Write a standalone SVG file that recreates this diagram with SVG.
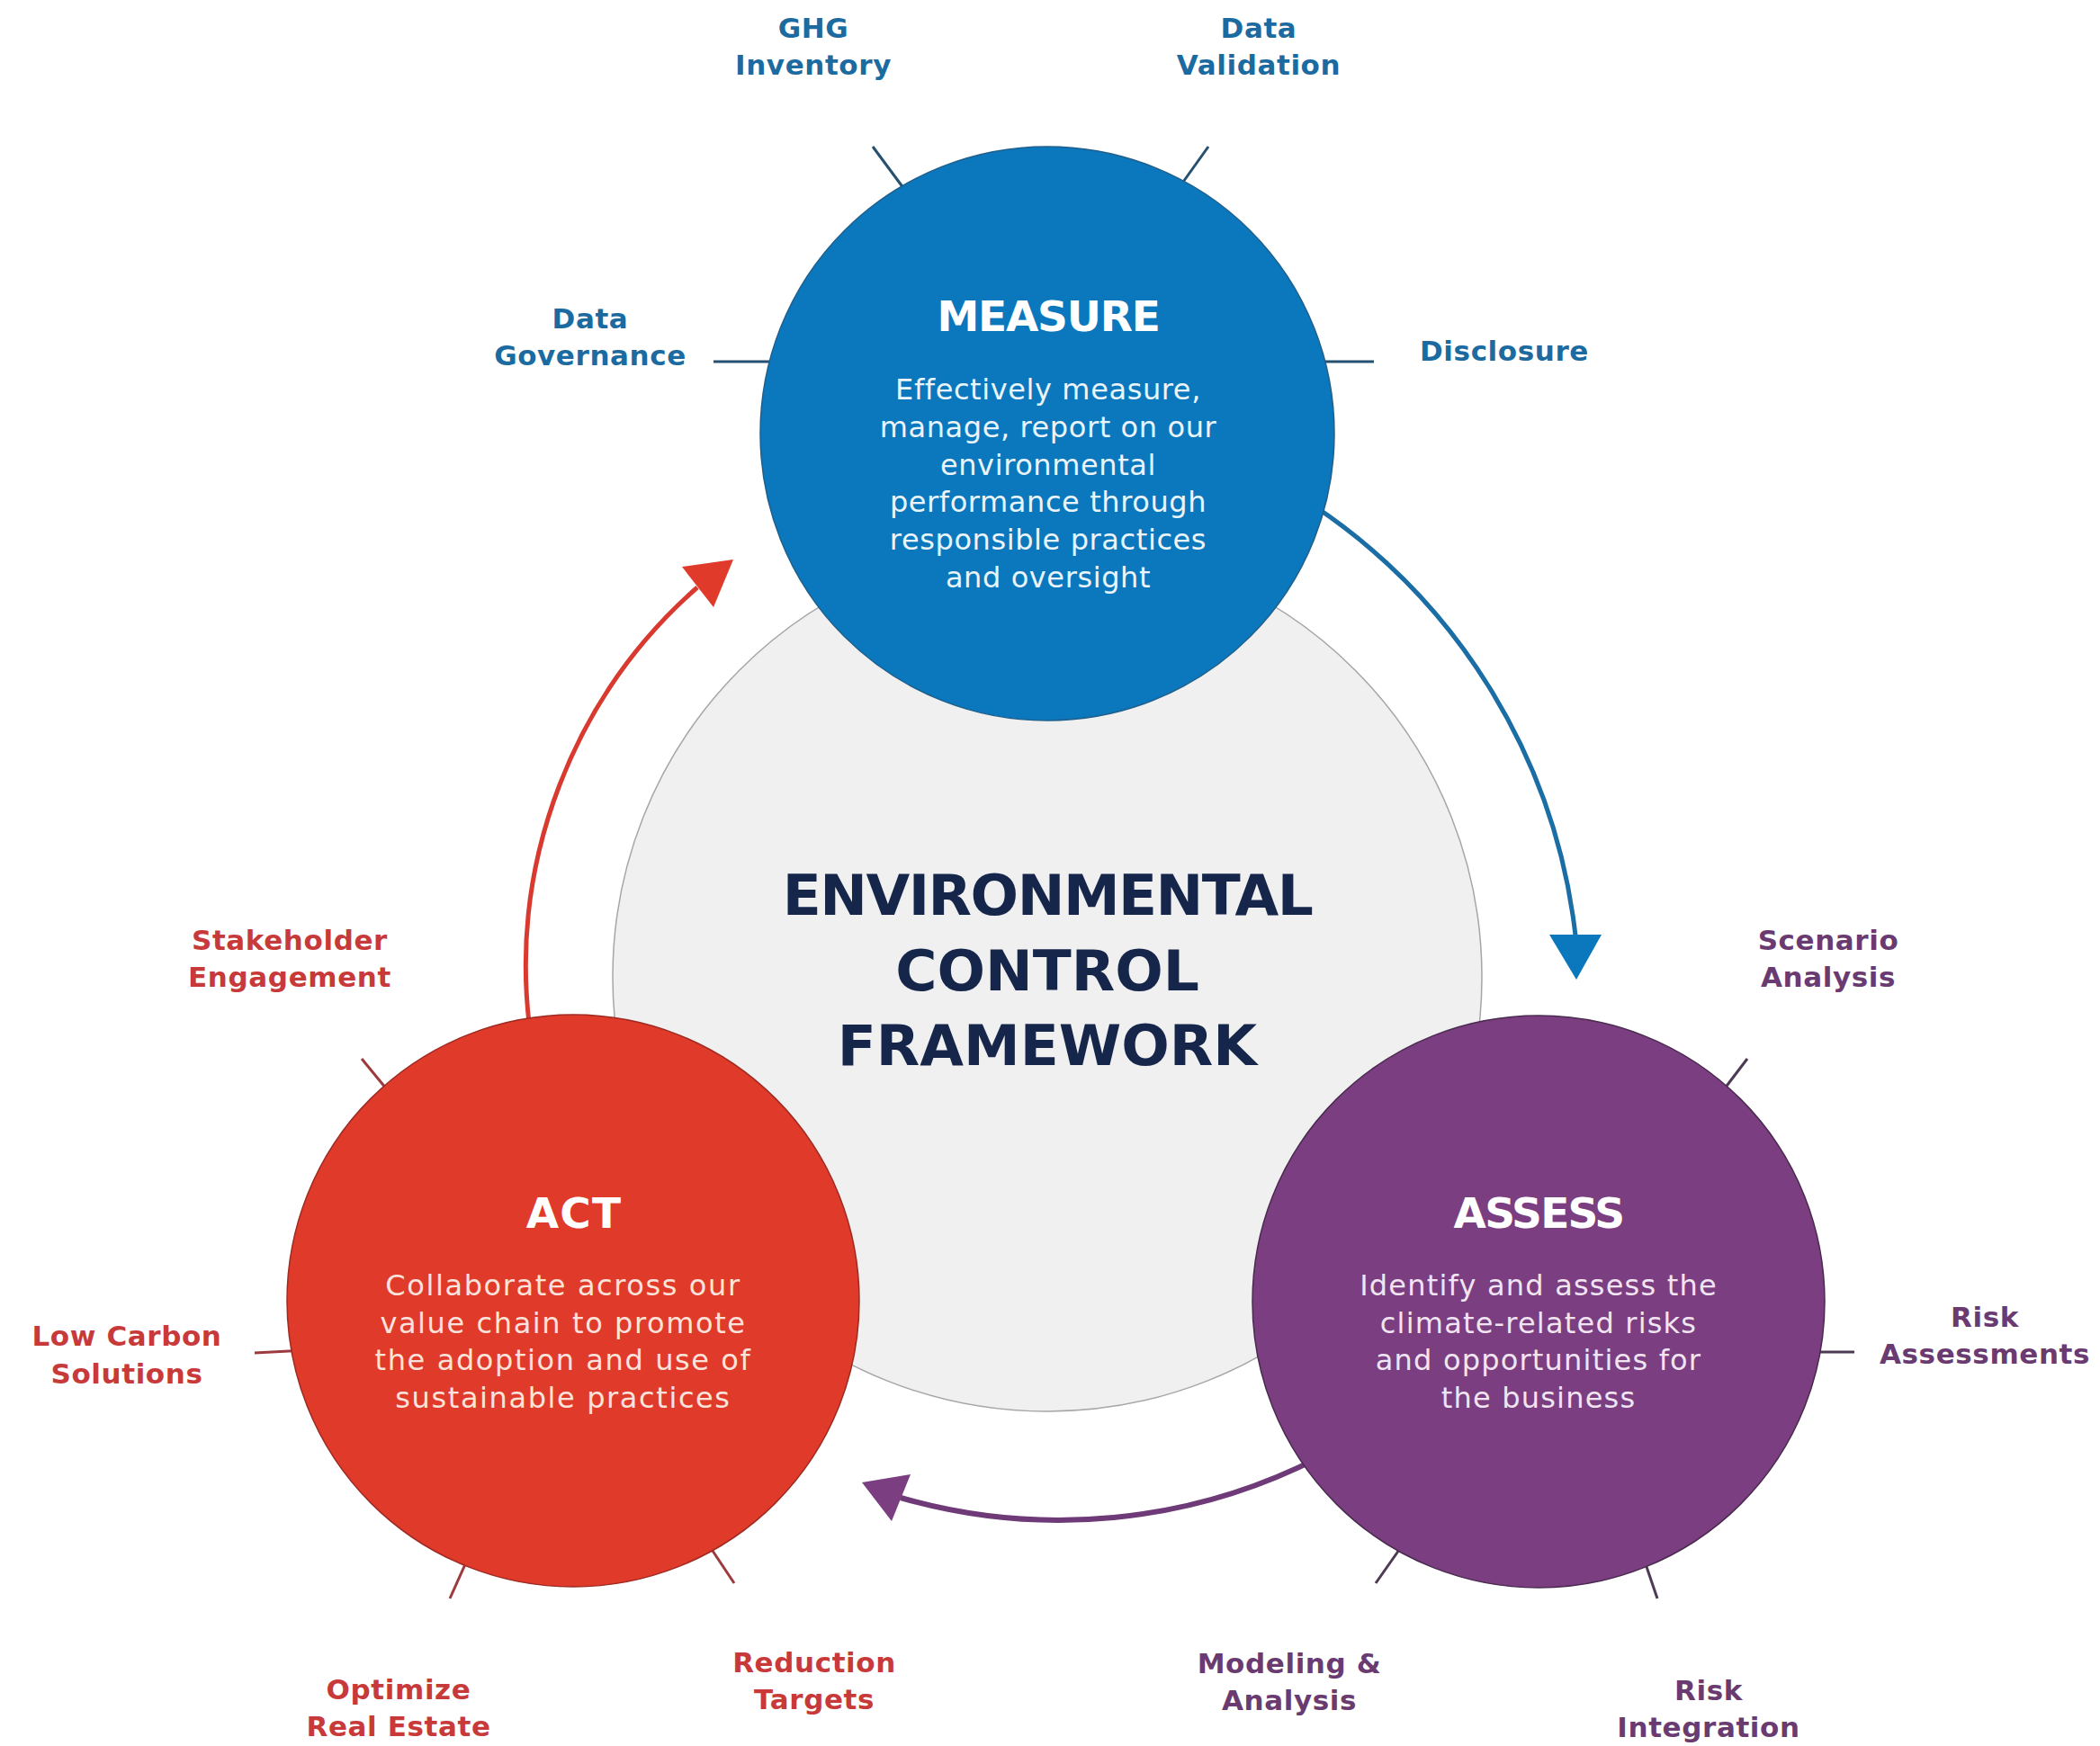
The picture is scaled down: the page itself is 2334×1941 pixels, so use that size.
<svg xmlns="http://www.w3.org/2000/svg" width="2334" height="1941" viewBox="0 0 2334 1941">
  <style>
    .lbl { font-family: "DejaVu Sans", "Liberation Sans", sans-serif; font-weight: bold; font-size: 31px; letter-spacing: 0.6px; text-anchor: middle; }
    .lbl-m { fill: #1b6aa0; }
    .lbl-a { fill: #c8393a; }
    .lbl-s { fill: #6a3b70; }
    .head { font-family: "DejaVu Sans", "Liberation Sans", sans-serif; font-weight: bold; font-size: 47px; fill: #ffffff; text-anchor: middle; }
    .body { font-family: "DejaVu Sans", "Liberation Sans", sans-serif; font-size: 32px; text-anchor: middle; }
    .title { font-family: "DejaVu Sans", "Liberation Sans", sans-serif; font-weight: bold; font-size: 63px; fill: #15264a; text-anchor: middle; }
    .tick { stroke-width: 3; fill: none; stroke-linecap: butt; }
    .tick-m { stroke: #25506f; }
    .tick-a { stroke: #9c3a3d; }
    .tick-s { stroke: #4d3a55; }
  </style>

  <rect width="2334" height="1941" fill="#ffffff"/>

  <!-- central hub -->
  <g id="hub">
    <circle cx="1164" cy="1086" r="483" fill="#f0f0f0" stroke="#a6a6a6" stroke-width="1.5"/>
    <text class="title" x="1164" y="1017" letter-spacing="-1.5">ENVIRONMENTAL</text>
    <text class="title" x="1164" y="1101">CONTROL</text>
    <text class="title" x="1164" y="1184">FRAMEWORK</text>
  </g>

  <!-- short spokes linking each stage to its topics -->
  <g id="spokes">
    <line class="tick tick-m" x1="970" y1="163" x2="1010" y2="217"/>
    <line class="tick tick-m" x1="1343" y1="163" x2="1308" y2="212"/>
    <line class="tick tick-m" x1="793" y1="402" x2="875" y2="402"/>
    <line class="tick tick-m" x1="1455" y1="402" x2="1527" y2="402"/>

    <line class="tick tick-a" x1="402" y1="1177" x2="434" y2="1216"/>
    <line class="tick tick-a" x1="283" y1="1504" x2="340" y2="1501"/>
    <line class="tick tick-a" x1="500" y1="1777" x2="522" y2="1728"/>
    <line class="tick tick-a" x1="816" y1="1760" x2="786" y2="1715"/>

    <line class="tick tick-s" x1="1942" y1="1177" x2="1910" y2="1219"/>
    <line class="tick tick-s" x1="2061" y1="1503" x2="2005" y2="1503"/>
    <line class="tick tick-s" x1="1529" y1="1760" x2="1562" y2="1713"/>
    <line class="tick tick-s" x1="1842" y1="1777" x2="1826" y2="1730"/>
  </g>

  <!-- cycle connectors -->
  <g id="connectors">
    <path d="M 1460.9 562.7 A 665 665 0 0 1 1751 1040" fill="none" stroke="#1a6da5" stroke-width="5"/>
    <polygon points="1722,1039 1780,1039 1752,1089" fill="#0b78bd"/>

    <path d="M 1465.8 1620.3 A 635 635 0 0 1 1001 1665" fill="none" stroke="#6e3a78" stroke-width="6"/>
    <polygon points="958,1648 1012,1639 991,1691" fill="#7b3e81"/>

    <path d="M 588.3 1140 A 561 561 0 0 1 775 653" fill="none" stroke="#d83a30" stroke-width="5"/>
    <polygon points="815,622 758,630 793,675" fill="#e03a2a"/>
  </g>

  <!-- MEASURE stage -->
  <g id="measure">
    <circle cx="1164" cy="482" r="319" fill="#0b78bd" stroke="#1f5f8c" stroke-width="1.5"/>
    <text class="head" x="1165" y="368" letter-spacing="-1.2">MEASURE</text>
    <g class="body" fill="#eaf4fb" letter-spacing="0.6">
      <text x="1165" y="444">Effectively measure,</text>
      <text x="1165" y="486">manage, report on our</text>
      <text x="1165" y="528">environmental</text>
      <text x="1165" y="569">performance through</text>
      <text x="1165" y="611">responsible practices</text>
      <text x="1165" y="653">and oversight</text>
    </g>
  </g>

  <!-- ACT stage -->
  <g id="act">
    <circle cx="637" cy="1446" r="318" fill="#e03a2a" stroke="#9e2a22" stroke-width="1.5"/>
    <text class="head" x="638" y="1365" letter-spacing="1.2">ACT</text>
    <g class="body" fill="#fbe3dc" letter-spacing="1.6">
      <text x="626" y="1440">Collaborate across our</text>
      <text x="626" y="1482">value chain to promote</text>
      <text x="626" y="1523">the adoption and use of</text>
      <text x="626" y="1565">sustainable practices</text>
    </g>
  </g>

  <!-- ASSESS stage -->
  <g id="assess">
    <circle cx="1710" cy="1447" r="318" fill="#7b3e81" stroke="#4a2a4f" stroke-width="1.5"/>
    <text class="head" x="1710" y="1365" letter-spacing="-1.8">ASSESS</text>
    <g class="body" fill="#f1e4f3" letter-spacing="1.2">
      <text x="1710" y="1440">Identify and assess the</text>
      <text x="1710" y="1482">climate-related risks</text>
      <text x="1710" y="1523">and opportunities for</text>
      <text x="1710" y="1565">the business</text>
    </g>
  </g>

  <!-- topic labels -->
  <g id="label-ghg-inventory" class="lbl lbl-m">
    <text x="904" y="42">GHG</text>
    <text x="904" y="83">Inventory</text>
  </g>
  <g id="label-data-validation" class="lbl lbl-m">
    <text x="1399" y="42">Data</text>
    <text x="1399" y="83">Validation</text>
  </g>
  <g id="label-data-governance" class="lbl lbl-m">
    <text x="656" y="365">Data</text>
    <text x="656" y="406">Governance</text>
  </g>
  <g id="label-disclosure" class="lbl lbl-m">
    <text x="1672" y="401">Disclosure</text>
  </g>

  <g id="label-stakeholder-engagement" class="lbl lbl-a">
    <text x="322" y="1056">Stakeholder</text>
    <text x="322" y="1097">Engagement</text>
  </g>
  <g id="label-low-carbon-solutions" class="lbl lbl-a">
    <text x="141" y="1496">Low Carbon</text>
    <text x="141" y="1538">Solutions</text>
  </g>
  <g id="label-optimize-real-estate" class="lbl lbl-a">
    <text x="443" y="1889">Optimize</text>
    <text x="443" y="1930">Real Estate</text>
  </g>
  <g id="label-reduction-targets" class="lbl lbl-a">
    <text x="905" y="1859">Reduction</text>
    <text x="905" y="1900">Targets</text>
  </g>

  <g id="label-scenario-analysis" class="lbl lbl-s">
    <text x="2032" y="1056">Scenario</text>
    <text x="2032" y="1097">Analysis</text>
  </g>
  <g id="label-risk-assessments" class="lbl lbl-s">
    <text x="2206" y="1475">Risk</text>
    <text x="2206" y="1516">Assessments</text>
  </g>
  <g id="label-modeling-analysis" class="lbl lbl-s">
    <text x="1433" y="1860">Modeling &amp;</text>
    <text x="1433" y="1901">Analysis</text>
  </g>
  <g id="label-risk-integration" class="lbl lbl-s">
    <text x="1899" y="1890">Risk</text>
    <text x="1899" y="1931">Integration</text>
  </g>
</svg>
